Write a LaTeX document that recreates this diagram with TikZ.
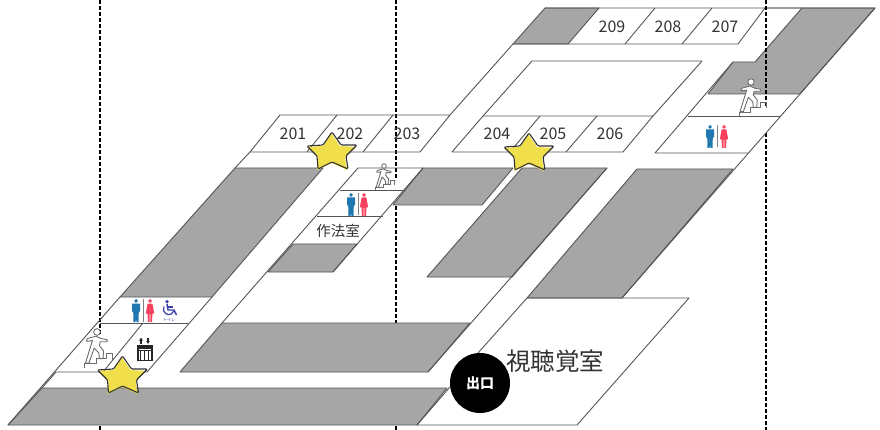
\documentclass[tikz,border=0pt]{standalone}
\usepackage{fontspec}
\usetikzlibrary{arrows.meta}
\setmainfont{Noto Sans CJK JP}
\definecolor{blockgray}{HTML}{A6A6A6}
\definecolor{wallline}{HTML}{555555}
\definecolor{txt}{HTML}{333333}
\definecolor{menblue}{HTML}{1F78B0}
\definecolor{womenred}{HTML}{F8405F}
\definecolor{wheelblue}{HTML}{3A3FA8}
\definecolor{staryellow}{HTML}{F0DF4A}
\tikzset{
  block/.style={fill=blockgray,draw=wallline,line width=0.9pt,line join=round},
  wall/.style={draw=wallline,line width=0.9pt,line join=round},
  guide/.style={draw=black,line width=1.3pt,dash pattern=on 4pt off 2pt},
  roomno/.style={text=txt,font=\fontsize{16}{16}\selectfont,inner sep=0pt},
  roomname/.style={text=txt,inner sep=0pt},
  climbline/.style={draw=gray!85!black,line width=0.9pt,line join=round},
  manicon/.pic={
    \fill[menblue] (0,1.9) circle (1.9);
    \fill[menblue] (-4,4.5)--(4,4.5)--(4,12.5)--(2.8,12.5)--(2.5,23)--(0.3,23)--(0,14)--(-0.3,23)--(-2.5,23)--(-2.8,12.5)--(-4,12.5)--cycle;
  },
  womanicon/.pic={
    \fill[womenred] (0,1.9) circle (1.9);
    \fill[womenred] (-2.4,4.5)--(2.4,4.5)--(4.2,14.5)--(2.3,14.5)--(2.2,23)--(0.4,23)--(0.3,15)--(-0.3,15)--(-0.4,23)--(-2.2,23)--(-2.3,14.5)--(-4.2,14.5)--cycle;
  },
  climber/.pic={
    \draw[climbline,fill=white] (-10,8.7)--(-9.3,6.3)--(-1,4)--(4,6.3)--(9.7,7.3)--(9.7,9.3)--(3,9.3)--(2.3,13)--(6.3,18)--(5.7,25.3)--(2.3,25.3)--(1.7,19.7)--(-2.7,15.3)--(-7.7,29.7)--(-11,29.7)--(-4.3,8)--(-7.7,8.7)--cycle;
    \draw[climbline,fill=white] (0,0) circle (3.2);
    \draw[climbline] (-11.7,34)--(-11.7,30)--(-1,30)--(-1,25.3)--(9,25.3)--(9,20.7)--(15,20.7)--(15,26.3);
  },
  starmark/.pic={
    \fill[staryellow] (-1,-20)--(8,-7)--(24,-6)--(13,4)--(15,17)--(0,10)--(-15,17)--(-14,4)--(-25,-6)--(-9,-7)--cycle;
    \draw[black!80,line width=1.1pt,line join=round,rounded corners=1.2pt] (0,-21)--(9,-8)--(25,-8)--(14,3)--(16,16)--(0,9)--(-14,16)--(-15,3)--(-25,-7)--(-9,-8)--cycle;
  }
}
\begin{document}
\begin{tikzpicture}[x=1pt,y=-1pt]
\useasboundingbox (0,0) rectangle (880,430);
\fill[white] (0,0) rectangle (880,430);
% dashed guides
\draw[guide] (100,0)--(100,334);
\draw[guide] (100,426)--(100,430);
\draw[guide] (396,0)--(396,180);
\draw[guide] (396,206)--(396,323);
\draw[guide] (396,426)--(396,430);
\draw[guide] (766,133)--(766,430);
% grey blocks
\path[block] (8,425)--(42,388)--(447,388)--(417,425)--cycle;
\path[block] (120,297)--(235,168)--(323,168)--(212,297)--cycle;
\path[block] (268,272)--(293,244)--(357,244)--(333,272)--cycle;
\path[block] (423,168)--(513,168)--(482,205)--(393,205)--cycle;
\path[block] (427,277)--(522,168)--(607,168)--(512,277)--cycle;
\path[block] (527,298)--(637,169)--(733,169)--(622,298)--cycle;
\path[block] (180,372)--(222,323)--(470,323)--(428,372)--cycle;
\path[block] (513,44)--(545,8)--(599,8)--(568,44)--cycle;
\path[block] (802,8)--(875,8)--(800,94)--(708,94)--(733,62)--(755,62)--cycle;
% walls
\draw[wall] (8,425)--(120,297);
\draw[wall] (42,388)--(56,372)--(147,372)--(212,297);
\draw[wall] (100,323)--(188,323);
\draw[wall] (103,372)--(143,323);
\draw[wall] (235,168)--(250,152)--(280,115)--(450,115)--(420,152)--(250,152);
\draw[wall] (337,115)--(307,152);
\draw[wall] (393,115)--(363,152);
\draw[wall] (222,323)--(358,168)--(423,168)--(333,272);
\draw[wall] (340,190)--(405,190);
\draw[wall] (317,216)--(383,216);
\draw[wall] (607,168)--(428,372);
\draw[wall] (527,298)--(478,353);
\draw[wall] (450,387)--(417,425)--(577,425)--(689,298)--(527,298);
\draw[wall] (452,152)--(483,116)--(653,116)--(623,152)--cycle;
\draw[wall] (540,116)--(510,152);
\draw[wall] (597,116)--(566,152);
\draw[wall] (483,116)--(532,61)--(702,61)--(653,116);
\draw[wall] (450,115)--(513,44)--(738,44)--(765,8)--(802,8);
\draw[wall] (545,8)--(875,8)--(622,298);
\draw[wall] (712,8)--(682,44);
\draw[wall] (655,8)--(625,44);
\draw[wall] (733,62)--(655,153)--(748,153);
\draw[wall] (688,116.5)--(780,116.5);
\draw[guide] (766,0)--(766,106);
% room numbers
\node[roomno] (r201) at (293,134) {201};
\node[roomno] (r202) at (350,134) {202};
\node[roomno] (r203) at (407,134) {203};
\node[roomno] (r204) at (497,134) {204};
\node[roomno] (r205) at (553,134) {205};
\node[roomno] (r206) at (610,134) {206};
\node[roomno] (r209) at (612,27) {209};
\node[roomno] (r208) at (668,27) {208};
\node[roomno] (r207) at (725,27) {207};
\node[roomname,font=\fontsize{14.5}{15}\selectfont] (saho) at (338,231) {作法室};
\node[roomname,font=\fontsize{24.5}{25}\selectfont] (shicho) at (555,361) {視聴覚室};
% restrooms
\pic at (136,299) {manicon};
\draw[gray,line width=1pt] (143,299)--(143,322);
\pic at (150,299) {womanicon};
\pic at (351,193) {manicon};
\draw[gray,line width=1pt] (358,193)--(358,215);
\pic at (364,193) {womanicon};
\pic at (710,125) {manicon};
\draw[gray,line width=1pt] (717,125)--(717,147);
\pic at (724,125) {womanicon};
% wheelchair
\fill[wheelblue] (167,301.7) circle (1.8);
\draw[wheelblue,line width=1.4pt,line join=round] (167,304)--(168,310)--(174,310)--(176.5,315);
\draw[wheelblue,line width=1.1pt] (167.5,307)--(172.5,307);
\draw[wheelblue,line width=1.2pt] (164,306.5) arc[start angle=210,end angle=20,radius=5.4];
\node[text=wheelblue,inner sep=0pt,font=\fontsize{4}{4}\selectfont] (toilet) at (169,319.5) {トイレ};
% climbers
\pic[scale=1.05] at (97,332) {climber};
\pic at (751,82) {climber};
\pic[scale=0.72] at (384,166) {climber};
% elevator
\fill[black!85] (136.5,345) rectangle (152.5,361);
\fill[white] (138.5,349) rectangle (150.5,359.5);
\foreach \xx in {140.5,144.5,148.5}{\fill[black!85] (\xx-0.8,350.5) rectangle (\xx+0.8,359.5);}
\fill[black!85] (138.5,351)--(150.5,351)--(150.5,349.5)--(138.5,349.5)--cycle;
\draw[black!85,line width=1.1pt,-{Latex[length=3pt,width=4pt]}] (141,344)--(141,337.5);
\draw[black!85,line width=1.1pt,-{Latex[length=3pt,width=4pt]}] (148,337.5)--(148,344);
% stars
\pic at (122.5,377) {starmark};
\pic at (332,153) {starmark};
\pic at (529,154) {starmark};
% exit
\node[circle,fill=black,minimum size=60pt,inner sep=0pt,text=white,font=\bfseries\fontsize{14}{14}\selectfont] (exit) at (480,383) {出口};
\end{tikzpicture}
\end{document}
